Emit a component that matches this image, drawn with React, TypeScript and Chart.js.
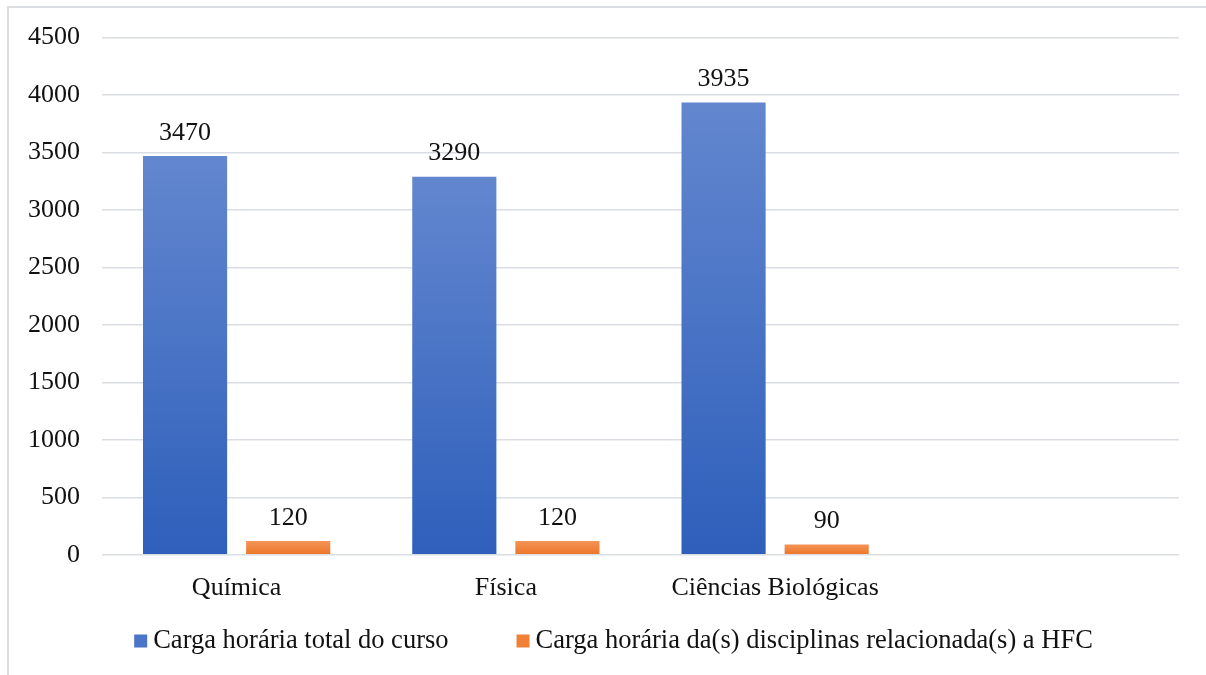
import React, { useEffect, useRef } from 'react';
import { Chart, registerables } from 'chart.js';

Chart.register(...registerables);

const categories = ['Química', 'Física', 'Ciências Biológicas', ''];
const totalHours: (number | null)[] = [3470, 3290, 3935, null];
const hfcHours: (number | null)[] = [120, 120, 90, null];
const seriesNames = [
  'Carga horária total do curso',
  'Carga horária da(s) disciplinas relacionada(s) a HFC',
];
const yMin = 0;
const yMax = 4500;
const yStep = 500;

const FONT = "'Liberation Serif', 'Times New Roman', serif";
const BLUE_TOP = '#6387cf';
const BLUE_BOTTOM = '#2e5fbb';
const ORANGE_TOP = '#f39457';
const ORANGE_BOTTOM = '#ec7628';
const LEGEND_COLORS = ['#4a75c8', '#ef8036'];
const GRID = '#dadee3';

function gradientFill(top: string, bottom: string) {
  return (ctx: any) => {
    const chart = ctx.chart;
    const scales = chart.scales;
    if (!chart.chartArea || !scales || !scales.y) return bottom;
    const v = ctx.raw;
    if (v == null || ctx.type !== 'data') return bottom;
    const y0 = scales.y.getPixelForValue(0);
    const y1 = scales.y.getPixelForValue(v);
    if (!isFinite(y0) || !isFinite(y1) || y0 === y1) return bottom;
    const g = chart.ctx.createLinearGradient(0, y1, 0, y0);
    g.addColorStop(0, top);
    g.addColorStop(1, bottom);
    return g;
  };
}

const valueLabels = {
  id: 'valueLabels',
  afterDatasetsDraw(chart: any) {
    const ctx = chart.ctx;
    ctx.save();
    ctx.font = `26px ${FONT}`;
    ctx.fillStyle = '#111';
    ctx.textAlign = 'center';
    ctx.textBaseline = 'bottom';
    chart.data.datasets.forEach((ds: any, i: number) => {
      const meta = chart.getDatasetMeta(i);
      meta.data.forEach((el: any, j: number) => {
        const v = ds.data[j];
        if (v == null) return;
        ctx.fillText(String(v), el.x, el.y - 10);
      });
    });
    ctx.restore();
  },
};

// Bottom legend drawn like the original (small square, short gap, text)
const bottomLegend = {
  id: 'bottomLegend',
  afterDraw(chart: any) {
    const ctx = chart.ctx;
    const size = 26.5;
    const box = 13;
    const gapBoxText = 6;
    const gapItems = 68;
    const centerX = 613.5;
    const centerY = 641;
    ctx.save();
    ctx.font = `${size}px ${FONT}`;
    const items = chart.data.datasets.map((ds: any, i: number) => ({
      text: ds.label,
      color: LEGEND_COLORS[i],
      w: ctx.measureText(ds.label).width,
    }));
    const total =
      items.reduce((a: number, it: any) => a + box + gapBoxText + it.w, 0) +
      gapItems * (items.length - 1);
    let x = centerX - total / 2;
    ctx.textBaseline = 'middle';
    ctx.textAlign = 'left';
    items.forEach((it: any) => {
      ctx.fillStyle = it.color;
      ctx.fillRect(x, centerY - box / 2, box, box);
      x += box + gapBoxText;
      ctx.fillStyle = '#111';
      ctx.fillText(it.text, x, centerY);
      x += it.w + gapItems;
    });
    ctx.restore();
  },
};

export default function App() {
  const ref = useRef<HTMLCanvasElement | null>(null);
  useEffect(() => {
    if (!ref.current) return;
    const chart = new Chart(ref.current, {
      type: 'bar',
      data: {
        labels: categories,
        datasets: [
          {
            label: seriesNames[0],
            data: totalHours,
            backgroundColor: gradientFill(BLUE_TOP, BLUE_BOTTOM),
            borderWidth: 0,
            categoryPercentage: 0.766,
            barPercentage: 0.816,
          },
          {
            label: seriesNames[1],
            data: hfcHours,
            backgroundColor: gradientFill(ORANGE_TOP, ORANGE_BOTTOM),
            borderWidth: 0,
            categoryPercentage: 0.766,
            barPercentage: 0.816,
          },
        ],
      },
      options: {
        animation: false,
        responsive: false,
        maintainAspectRatio: false,
        layout: { padding: { left: 0, right: 27, top: 37, bottom: 61 } },
        plugins: {
          tooltip: { enabled: false },
          legend: { display: false },
        },
        scales: {
          x: {
            grid: { display: false },
            border: { display: false },
            ticks: {
              font: { family: FONT, size: 26 },
              color: '#111',
              padding: 10,
              maxRotation: 0,
            },
          },
          y: {
            min: yMin,
            max: yMax,
            afterFit: (s: any) => {
              s.width = 102;
            },
            grid: { color: GRID, lineWidth: 1.5, drawTicks: false },
            border: { display: false },
            ticks: {
              stepSize: yStep,
              font: { family: FONT, size: 26 },
              color: '#111',
              padding: 22,
              callback: (v: any) => String(v),
            },
          },
        },
      },
      plugins: [valueLabels, bottomLegend],
    });
    return () => chart.destroy();
  }, []);

  return (
    <div
      style={{
        position: 'absolute',
        left: 0,
        top: 0,
        width: 1206,
        height: 675,
        overflow: 'hidden',
        background: '#fff',
      }}
    >
      <div
        style={{
          position: 'absolute',
          left: 7,
          top: 6,
          width: 1400,
          height: 900,
          border: `2px solid ${GRID}`,
        }}
      />
      <canvas
        ref={ref}
        width={1206}
        height={675}
        style={{ position: 'absolute', left: 0, top: 0, width: 1206, height: 675 }}
      />
    </div>
  );
}
